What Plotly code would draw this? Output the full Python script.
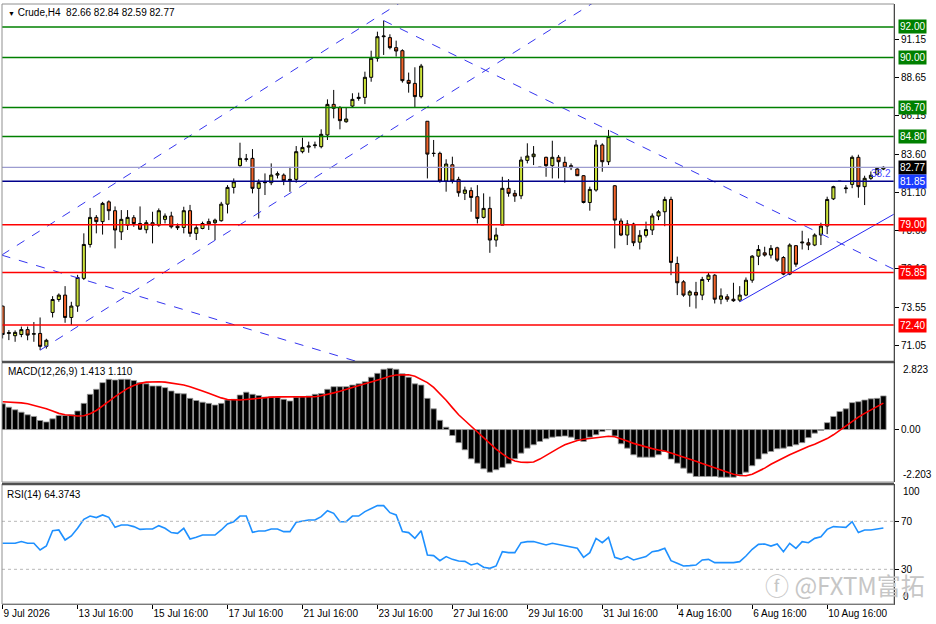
import plotly.graph_objects as go

# --- Crude H4, 142 bars (index 0 = 9 Jul 2026 16:00) ---
OPEN = [
    73.64, 71.85, 71.70, 71.78, 72.10, 71.80, 71.85, 71.00, 73.23, 74.08,
    74.37, 72.90, 73.65, 75.47, 77.70, 79.48, 79.20, 80.50, 79.92, 78.53,
    78.97, 79.46, 79.08, 78.67, 79.13, 78.97, 79.35, 79.57, 78.90, 78.82,
    79.92, 78.43, 78.75, 79.20, 79.13, 79.26, 80.35, 81.45, 82.88, 83.30,
    83.36, 81.39, 81.76, 81.76, 82.26, 82.26, 81.90, 81.98, 83.80, 84.10,
    84.20, 84.13, 84.90, 86.91, 86.70, 85.77, 86.80, 87.30, 87.37, 88.69,
    89.94, 91.36, 91.30, 90.64, 90.44, 88.49, 88.29, 87.42, 85.80, 83.70,
    83.69, 81.87, 82.94, 81.98, 81.06, 81.24, 80.84, 79.48, 80.07, 77.99,
    78.97, 81.39, 81.06, 80.90, 83.23, 83.47, 82.77, 83.43, 82.88, 83.43,
    83.10, 82.88, 82.66, 82.22, 80.46, 81.28, 84.24, 83.14, 81.56, 79.24,
    78.32, 79.04, 77.85, 78.30, 78.65, 79.57, 79.85, 80.66, 76.45, 75.24,
    74.37, 74.55, 74.37, 75.40, 75.68, 74.10, 74.26, 74.10, 74.04, 74.37,
    75.35, 76.93, 77.15, 77.00, 77.48, 76.84, 75.75, 77.62, 77.80, 77.81,
    77.66, 78.32, 78.91, 80.70, 81.85, 81.37, 81.65, 83.43, 81.50, 82.05,
    82.31, 82.66,
]
HIGH = [
    73.70, 72.07, 72.05, 72.30, 72.30, 72.60, 72.90, 71.50, 74.30, 74.48,
    74.96, 73.93, 75.70, 78.43, 80.10, 79.63, 80.50, 80.60, 80.20, 79.96,
    79.96, 79.63, 80.20, 79.30, 79.85, 80.07, 79.74, 79.85, 79.08, 80.18,
    80.30, 78.97, 79.20, 79.40, 79.40, 80.50, 81.60, 82.04, 84.39, 83.65,
    83.97, 81.98, 82.37, 83.03, 82.50, 82.37, 82.80, 84.17, 84.72, 84.46,
    84.46, 85.27, 87.24, 87.86, 86.80, 86.71, 87.64, 87.68, 89.06, 90.44,
    91.69, 92.42, 91.52, 91.10, 90.53, 89.00, 89.35, 89.57, 85.80, 84.57,
    83.80, 83.30, 83.47, 82.15, 81.50, 81.45, 81.60, 81.06, 80.84, 78.80,
    82.15, 82.00, 81.28, 83.47, 84.35, 84.17, 82.77, 83.47, 84.52, 83.58,
    83.47, 83.03, 82.70, 82.26, 81.50, 84.57, 84.35, 85.23, 81.60, 79.41,
    79.30, 79.13, 78.64, 79.20, 79.74, 79.96, 80.84, 80.84, 76.90, 75.35,
    74.70, 75.24, 75.57, 75.84, 75.75, 74.81, 74.43, 75.18, 74.96, 75.53,
    77.00, 77.66, 77.55, 77.66, 77.55, 76.93, 77.77, 77.66, 78.60, 78.10,
    78.43, 79.13, 80.84, 81.56, 81.85, 81.60, 83.55, 83.60, 82.22, 82.50,
    82.74, 82.84,
]
LOW = [
    71.52, 71.41, 71.30, 71.60, 71.40, 71.30, 70.75, 70.85, 72.90, 73.93,
    72.55, 72.40, 73.27, 75.36, 77.50, 78.43, 78.35, 79.30, 77.44, 77.99,
    78.65, 78.86, 78.65, 78.43, 77.77, 78.86, 79.08, 78.75, 78.65, 78.43,
    78.20, 77.99, 78.70, 78.65, 77.99, 79.20, 79.74, 81.05, 82.81, 83.14,
    81.06, 79.41, 80.95, 81.60, 82.04, 81.60, 81.16, 81.76, 83.69, 83.73,
    84.02, 84.02, 84.57, 85.99, 85.27, 85.70, 86.71, 87.15, 86.93, 88.40,
    89.72, 90.16, 90.53, 90.05, 88.34, 87.68, 86.71, 87.31, 82.04, 83.47,
    81.76, 81.17, 81.71, 80.84, 80.62, 79.85, 79.08, 79.41, 77.15, 77.55,
    78.97, 80.84, 80.50, 80.68, 83.03, 82.92, 82.77, 82.15, 82.04, 82.04,
    81.76, 82.59, 82.20, 80.40, 79.92, 81.17, 82.48, 82.92, 77.44, 78.25,
    77.66, 77.59, 77.37, 78.16, 78.32, 79.30, 78.90, 75.68, 74.37, 74.26,
    73.60, 73.49, 74.04, 75.24, 73.82, 73.77, 73.93, 73.93, 73.93, 74.30,
    75.18, 76.34, 76.90, 76.78, 76.56, 75.68, 75.68, 76.23, 77.37, 77.33,
    77.59, 77.66, 78.38, 80.62, 81.85, 81.06, 81.40, 80.77, 80.29, 81.95,
    82.26, 82.59,
]
CLOSE = [
    71.78, 71.90, 71.92, 72.10, 71.74, 71.83, 71.00, 71.40, 74.08, 74.37,
    72.90, 73.65, 75.53, 77.70, 79.48, 79.20, 80.40, 79.92, 78.65, 79.35,
    79.48, 79.08, 78.70, 79.13, 78.97, 79.92, 79.57, 78.86, 78.80, 79.92,
    78.43, 78.80, 79.08, 79.05, 79.30, 80.35, 81.45, 81.82, 83.36, 83.32,
    81.39, 81.76, 81.78, 82.26, 82.35, 81.89, 81.98, 83.80, 84.08, 84.17,
    84.24, 84.94, 86.91, 86.65, 85.84, 85.95, 87.24, 87.37, 88.69, 89.94,
    91.36, 91.40, 90.64, 90.42, 88.47, 88.29, 87.42, 89.43, 83.64, 83.68,
    81.87, 82.99, 81.87, 81.10, 81.28, 80.79, 79.41, 80.07, 77.99, 78.32,
    81.39, 81.06, 80.88, 83.25, 83.51, 83.64, 82.77, 82.88, 83.43, 83.14,
    82.77, 82.75, 82.22, 80.46, 81.32, 84.24, 83.14, 84.79, 79.30, 78.32,
    79.04, 77.81, 78.30, 78.68, 79.57, 79.85, 80.66, 76.52, 75.18, 74.37,
    74.59, 74.37, 75.40, 75.68, 74.10, 74.32, 74.10, 74.00, 74.37, 75.35,
    76.93, 77.37, 77.00, 77.44, 76.67, 75.75, 77.66, 76.40, 77.85, 77.66,
    78.32, 78.91, 80.66, 81.50, 81.85, 81.41, 83.43, 81.50, 82.05, 82.25,
    82.70, 82.77,
]

MACD_HIST = [
    1.08, 0.94, 0.83, 0.73, 0.62, 0.55, 0.38, 0.32, 0.45, 0.59,
    0.59, 0.62, 0.78, 1.10, 1.48, 1.69, 1.97, 2.11, 2.08, 2.11,
    2.11, 2.06, 1.97, 1.92, 1.83, 1.83, 1.76, 1.62, 1.52, 1.50,
    1.31, 1.22, 1.15, 1.10, 1.03, 1.10, 1.24, 1.27, 1.45, 1.57,
    1.48, 1.43, 1.36, 1.38, 1.36, 1.27, 1.20, 1.36, 1.38, 1.41,
    1.48, 1.51, 1.69, 1.80, 1.80, 1.80, 1.87, 1.92, 2.01, 2.20,
    2.36, 2.53, 2.57, 2.53, 2.34, 2.20, 1.92, 1.87, 1.31, 0.87,
    0.39, 0.10, -0.25, -0.55, -0.85, -1.23, -1.41, -1.65, -1.79, -1.69,
    -1.59, -1.44, -1.23, -0.99, -0.78, -0.64, -0.50, -0.39, -0.32, -0.29,
    -0.27, -0.32, -0.43, -0.50, -0.32, -0.22, -0.08, -0.01, -0.27, -0.60,
    -0.78, -1.06, -1.16, -1.16, -1.16, -1.06, -0.92, -1.24, -1.41, -1.62,
    -1.83, -1.97, -1.97, -1.97, -1.97, -2.00, -2.00, -2.00, -1.90, -1.79,
    -1.52, -1.24, -1.02, -0.92, -0.81, -0.78, -0.71, -0.64, -0.55, -0.34,
    -0.15, -0.04, 0.29, 0.55, 0.76, 0.87, 1.13, 1.17, 1.24, 1.29,
    1.31, 1.413,
]
MACD_SIGNAL = [
    1.17, 1.16, 1.15, 1.12, 1.08, 1.02, 0.95, 0.87, 0.78, 0.68,
    0.62, 0.58, 0.57, 0.58, 0.66, 0.80, 0.98, 1.18, 1.38, 1.56,
    1.73, 1.85, 1.94, 1.99, 2.01, 2.01, 1.99, 1.96, 1.92, 1.87,
    1.80, 1.72, 1.62, 1.52, 1.42, 1.33, 1.26, 1.24, 1.24, 1.26,
    1.29, 1.31, 1.34, 1.36, 1.37, 1.37, 1.36, 1.35, 1.35, 1.36,
    1.38, 1.42, 1.47, 1.54, 1.61, 1.68, 1.76, 1.84, 1.92, 2.00,
    2.09, 2.17, 2.24, 2.29, 2.31, 2.30, 2.24, 2.12, 1.97, 1.77,
    1.52, 1.23, 0.92, 0.62, 0.38, 0.14, -0.10, -0.35, -0.58, -0.82,
    -1.02, -1.20, -1.32, -1.37, -1.38, -1.36, -1.24, -1.08, -0.93, -0.78,
    -0.64, -0.54, -0.46, -0.41, -0.37, -0.33, -0.30, -0.28, -0.30, -0.38,
    -0.48, -0.58, -0.66, -0.73, -0.80, -0.86, -0.90, -0.98, -1.06, -1.14,
    -1.24, -1.33, -1.43, -1.52, -1.61, -1.70, -1.80, -1.88, -1.93, -1.94,
    -1.88, -1.76, -1.62, -1.46, -1.32, -1.18, -1.06, -0.94, -0.82, -0.71,
    -0.62, -0.51, -0.38, -0.22, -0.03, 0.16, 0.36, 0.52, 0.68, 0.83,
    0.97, 1.110,
]
RSI_VALUES = [
    51.7, 51.7, 51.7, 53.1, 51.7, 51.7, 46.1, 49.4, 62.2, 62.8,
    54.4, 57.8, 64.2, 71.7, 74.4, 73.1, 75.3, 73.3, 65.0, 66.9,
    66.9, 65.6, 63.3, 63.6, 63.6, 66.4, 64.2, 60.6, 60.0, 64.2,
    55.3, 56.7, 58.6, 58.6, 58.6, 62.8, 67.8, 69.7, 74.4, 74.4,
    60.8, 61.9, 61.9, 63.6, 63.6, 61.4, 61.4, 69.2, 70.3, 71.1,
    71.1, 73.9, 78.9, 76.7, 69.7, 69.7, 74.4, 74.4, 78.1, 80.3,
    83.1, 83.1, 77.2, 75.3, 61.4, 60.6, 55.8, 62.2, 41.9, 41.4,
    37.2, 40.6, 38.3, 36.9, 36.6, 33.6, 35.0, 31.7, 30.8, 32.8,
    44.7, 43.9, 43.9, 52.2, 53.1, 53.1, 51.7, 50.3, 51.7, 50.8,
    49.4, 48.9, 47.5, 40.0, 43.9, 55.8, 52.2, 56.7, 40.0, 38.3,
    40.6, 37.8, 39.2, 40.6, 44.7, 45.6, 47.5, 37.2, 35.0, 32.8,
    33.1, 33.6, 37.8, 38.3, 35.6, 35.6, 35.6, 35.6, 36.4, 41.1,
    46.7, 50.8, 51.1, 49.4, 51.1, 44.7, 51.7, 47.5, 53.1, 52.2,
    55.8, 57.2, 63.3, 65.6, 65.3, 65.0, 69.7, 60.6, 62.8, 62.8,
    63.6, 64.3743,
]

DATE_TICKS = [0, 12, 24, 36, 48, 60, 72, 84, 96, 108, 120, 132]
DATE_LABELS = ["9 Jul 2026", "13 Jul 16:00", "15 Jul 16:00", "17 Jul 16:00",
               "21 Jul 16:00", "23 Jul 16:00", "27 Jul 16:00", "29 Jul 16:00",
               "31 Jul 16:00", "4 Aug 16:00", "6 Aug 16:00", "10 Aug 16:00"]
PRICE_TICKS = [91.15, 88.65, 86.15, 83.60, 81.10, 78.60, 76.10, 73.55, 71.05]

RESIST_LEVELS = [92.00, 90.00, 86.70, 84.80]
SUPPORT_LEVELS = [79.00, 75.85, 72.40]
FIB_LEVEL = 81.85
FIB_TEXT = "38.2"
LAST_PRICE = 82.77

# trendlines: (bar0, price0, bar1, price1)
CHANNEL_LINES = [
    (-0.16, 77.00, 63.65, 93.60),
    (6.0, 70.75, 94.6, 93.60),
    (-0.16, 77.00, 60.0, 69.60),
    (61.0, 92.42, 143.5, 75.90),
]
SUPPORT_TREND = (118.0, 73.93, 143.5, 79.88)

FONT = "Liberation Sans"
BULL = "#cbe23a"
BEAR = "#f2642a"

bars = list(range(len(CLOSE)))
fig = go.Figure()

fig.add_trace(go.Candlestick(
    x=bars, open=OPEN, high=HIGH, low=LOW, close=CLOSE,
    increasing=dict(fillcolor=BULL, line=dict(color="black", width=1)),
    decreasing=dict(fillcolor=BEAR, line=dict(color="black", width=1)),
    whiskerwidth=0, xaxis="x", yaxis="y", hoverinfo="skip"))

for x0, y0, x1, y1 in CHANNEL_LINES:
    fig.add_trace(go.Scatter(x=[x0, x1], y=[y0, y1], mode="lines",
                             line=dict(color="#3535f0", width=1, dash="dash"),
                             xaxis="x", yaxis="y", hoverinfo="skip"))
x0, y0, x1, y1 = SUPPORT_TREND
fig.add_trace(go.Scatter(x=[x0, x1], y=[y0, y1], mode="lines",
                         line=dict(color="#2a2af0", width=1),
                         xaxis="x", yaxis="y", hoverinfo="skip"))

fig.add_trace(go.Bar(x=bars, y=MACD_HIST, marker=dict(color="black", line=dict(color="#9a9a9a", width=0.8)),
                     xaxis="x2", yaxis="y2", hoverinfo="skip"))
fig.add_trace(go.Scatter(x=bars, y=MACD_SIGNAL, mode="lines", line=dict(color="#ff0000", width=1.6),
                         xaxis="x2", yaxis="y2", hoverinfo="skip"))
fig.add_trace(go.Scatter(x=bars, y=RSI_VALUES, mode="lines", line=dict(color="#1e90ff", width=1.6),
                         xaxis="x3", yaxis="y3", hoverinfo="skip"))

# panel domains (px: main 4-362, macd 362-482, rsi 484-604)
D_MAIN = [0.4033, 1.0]
D_MACD = [0.2033, 0.4028]
D_RSI = [0.0, 0.2]
XR = [-0.1, 142.7]

tickfont = dict(family=FONT, size=10, color="black")
yax = dict(side="right", showgrid=False, zeroline=False, showline=True, linecolor="black",
           ticks="outside", ticklen=4, tickcolor="black", tickfont=tickfont, fixedrange=True)
xax = dict(range=XR, showgrid=False, zeroline=False, showticklabels=False, fixedrange=True)

fig.update_layout(
    width=936, height=624, margin=dict(l=2, r=42, t=4, b=20),
    paper_bgcolor="white", plot_bgcolor="white", showlegend=False, bargap=0.12,
    xaxis=dict(xax, anchor="y", rangeslider=dict(visible=False)),
    xaxis2=dict(xax, anchor="y2", matches="x"),
    xaxis3=dict(xax, anchor="y3", matches="x", showticklabels=True, tickvals=DATE_TICKS,
                ticktext=DATE_LABELS, ticks="outside", ticklen=4, tickcolor="black",
                ticklabelposition="outside right", tickfont=tickfont,
                showline=True, linecolor="#606060"),
    yaxis=dict(yax, domain=D_MAIN, anchor="x", range=[69.97, 93.51], tickvals=PRICE_TICKS,
               ticktext=[f"{v:.2f}" for v in PRICE_TICKS]),
    yaxis2=dict(yax, domain=D_MACD, anchor="x2", range=[-2.203, 2.823], tickvals=[0], ticktext=["0.00"]),
    yaxis3=dict(yax, domain=D_RSI, anchor="x3", range=[1.1, 101.1], tickvals=[70, 30], ticktext=["70", "30"]),
)

shapes = []
for lv in RESIST_LEVELS:
    shapes.append(dict(type="line", xref="paper", x0=0, x1=1, yref="y", y0=lv, y1=lv,
                       line=dict(color="#008000", width=1.5)))
for lv in SUPPORT_LEVELS:
    shapes.append(dict(type="line", xref="paper", x0=0, x1=1, yref="y", y0=lv, y1=lv,
                       line=dict(color="#ff0000", width=1.5)))
shapes.append(dict(type="line", xref="paper", x0=0, x1=1, yref="y", y0=LAST_PRICE, y1=LAST_PRICE,
                   line=dict(color="#9c9cd0", width=1.2)))
shapes.append(dict(type="line", xref="paper", x0=0, x1=1, yref="y", y0=FIB_LEVEL, y1=FIB_LEVEL,
                   line=dict(color="#00008b", width=1.5)))
for lv in (70, 30):
    shapes.append(dict(type="line", xref="paper", x0=0, x1=1, yref="y3", y0=lv, y1=lv,
                       line=dict(color="#b8b8b8", width=1, dash="dot")))
# panel frames and separators
for d in (D_MAIN, D_MACD, D_RSI):
    shapes.append(dict(type="rect", xref="paper", x0=0, x1=1, yref="paper", y0=d[0], y1=d[1],
                       line=dict(color="#909090", width=1), layer="above"))
for yp in (D_MAIN[0], D_RSI[1]):
    shapes.append(dict(type="line", xref="paper", x0=0, x1=1, yref="paper", y0=yp, y1=yp,
                       line=dict(color="#505050", width=2.5)))
fig.update_layout(shapes=shapes)

ann = []
def price_box(v, bg, txt=None):
    ann.append(dict(xref="paper", x=1, xanchor="left", xshift=4, yref="y", y=v, yanchor="middle",
                    text=txt or f"{v:.2f}", showarrow=False, bgcolor=bg, borderpad=1,
                    font=dict(family=FONT, size=10, color="white")))

for lv in RESIST_LEVELS:
    price_box(lv, "#008000")
for lv in SUPPORT_LEVELS:
    price_box(lv, "#ff0000")
price_box(LAST_PRICE, "black")
price_box(FIB_LEVEL, "#1a3cff")

ann.append(dict(xref="paper", x=1, xanchor="right", xshift=-1, yref="y", y=FIB_LEVEL, yanchor="bottom",
                text=FIB_TEXT, showarrow=False, font=dict(family=FONT, size=10, color="#4848ff")))

ann.append(dict(xref="paper", x=0, xanchor="left", xshift=4, yref="paper", y=1, yanchor="top", yshift=-1,
                text=f"<span style='font-size:7px'>▼</span> Crude,H4  {OPEN[-1]:.2f} {HIGH[-1]:.2f} {LOW[-1]:.2f} {CLOSE[-1]:.2f}",
                showarrow=False, font=dict(family=FONT, size=10, color="black")))
ann.append(dict(xref="paper", x=0, xanchor="left", xshift=4, yref="y2 domain", y=1, yanchor="top", yshift=-2,
                text=f"MACD(12,26,9) {MACD_HIST[-1]:.3f} {MACD_SIGNAL[-1]:.3f}",
                showarrow=False, font=dict(family=FONT, size=10, color="black")))
ann.append(dict(xref="paper", x=0, xanchor="left", xshift=3, yref="y3 domain", y=1, yanchor="top", yshift=-3,
                text=f"RSI(14) {RSI_VALUES[-1]:.4f}", showarrow=False,
                font=dict(family=FONT, size=10, color="black")))

for ref, y, anchor, txt in (("y2 domain", 1, "top", "2.823"), ("y2 domain", 0, "bottom", "-2.203"),
                            ("y3 domain", 1, "top", "100"), ("y3 domain", 0, "bottom", "0")):
    ann.append(dict(xref="paper", x=1, xanchor="left", xshift=7, yref=ref, y=y, yanchor=anchor,
                    text=txt, showarrow=False, font=dict(family=FONT, size=10, color="black")))

# watermark, runs over the right axis like in the original screenshot
ann.append(dict(xref="paper", x=1.037, xanchor="right", yref="paper", y=0.033, yanchor="middle",
                text="ⓕ @FXTM富拓", showarrow=False,
                font=dict(family="Noto Sans CJK SC", size=24, color="#c6c6c6")))
fig.update_layout(annotations=ann)

# page body has a default margin; remove it so the chart sits at the window's top-left
fig.write_html("out.html", config={"displayModeBar": False},
               post_script="document.body.style.margin='0';document.body.style.overflow='hidden';")
